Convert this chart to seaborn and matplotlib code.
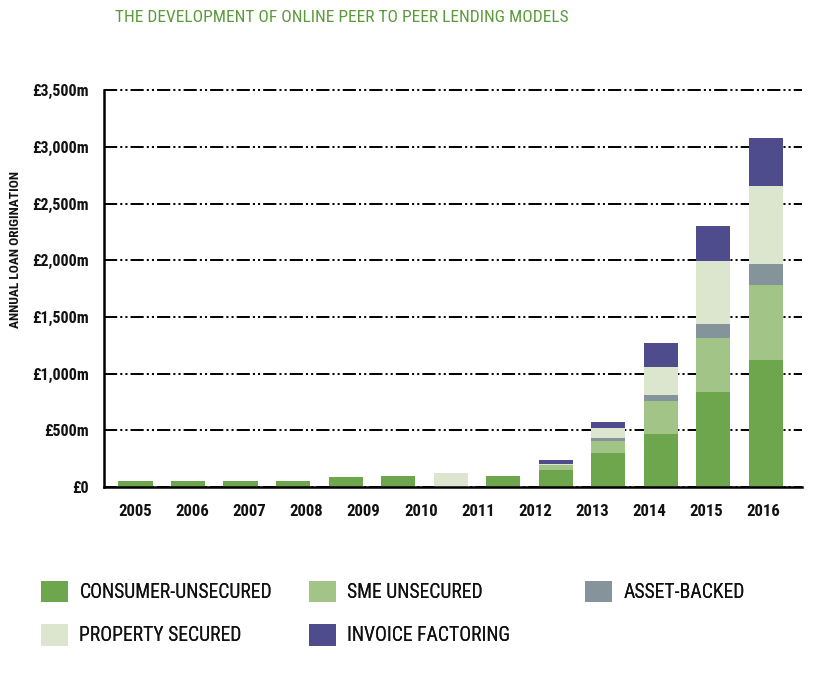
import numpy as np
import pandas as pd
import matplotlib
matplotlib.use("Agg")
import matplotlib.pyplot as plt
from matplotlib.patches import Patch
from matplotlib import font_manager
import seaborn as sns

# ---------------- data ----------------
bar_slots = ["2005", "2006", "2007", "2008", "2009", "2010", "2010b",
             "2011", "2012", "2013", "2014", "2015", "2016"]
year_labels = ["2005", "2006", "2007", "2008", "2009", "2010",
               "2011", "2012", "2013", "2014", "2015", "2016"]
consumer_unsecured = [50, 50, 50, 50, 86, 97, 0, 97, 148, 300, 470, 840, 1120]
sme_unsecured      = [0, 0, 0, 0, 0, 0, 0, 0, 45, 106, 289, 476, 659]
asset_backed       = [0, 0, 0, 0, 0, 0, 0, 0, 0, 26, 50, 123, 185]
property_secured   = [0, 0, 0, 0, 0, 0, 126, 0, 10, 85, 247, 556, 693]
invoice_factoring  = [0, 0, 0, 0, 0, 0, 0, 0, 35, 56, 211, 306, 418]
series_names = ["CONSUMER-UNSECURED", "SME UNSECURED", "ASSET-BACKED",
                "PROPERTY SECURED", "INVOICE FACTORING"]
y_ticks = [0, 500, 1000, 1500, 2000, 2500, 3000, 3500]
y_tick_labels = ["£0", "£500m", "£1,000m", "£1,500m", "£2,000m",
                 "£2,500m", "£3,000m", "£3,500m"]

colors = {
    "CONSUMER-UNSECURED": "#6ea64e",
    "SME UNSECURED": "#a2c487",
    "ASSET-BACKED": "#85939a",
    "PROPERTY SECURED": "#dce6cf",
    "INVOICE FACTORING": "#4e4c8c",
}

# ---------------- style ----------------
sns.set_theme(style="white")

# choose a condensed family if one is installed, otherwise Roboto
names = set(font_manager.fontManager.get_font_names())
family = None
stretch = "normal"
scale = 1.0
for cand in ["Liberation Sans Narrow", "Roboto Condensed", "Open Sans Condensed",
             "Noto Sans Condensed", "DejaVu Sans Condensed"]:
    if cand in names:
        family, scale = cand, 1.18
        break
if family is None:
    try:
        fp = font_manager.findfont(font_manager.FontProperties(
            family="DejaVu Sans", stretch="condensed"), fallback_to_default=False)
        if "Condensed" in fp:
            family, stretch, scale = "DejaVu Sans", "condensed", 0.92
    except Exception:
        pass
if family is None:
    family = "Roboto" if "Roboto" in names else "DejaVu Sans"
    scale = 1.0 if family == "Roboto" else 0.85

plt.rcParams["font.family"] = [family, "DejaVu Sans"]
plt.rcParams["font.stretch"] = stretch
plt.rcParams["lines.scale_dashes"] = False

def fs(x):
    return x * scale

fig = plt.figure(figsize=(8.23, 6.74), dpi=100)
ax = fig.add_axes([104 / 823, (674 - 487) / 674, 698 / 823, (487 - 84.5) / 674])

df = pd.DataFrame({
    "slot": bar_slots,
    "CONSUMER-UNSECURED": consumer_unsecured,
    "SME UNSECURED": sme_unsecured,
    "ASSET-BACKED": asset_backed,
    "PROPERTY SECURED": property_secured,
    "INVOICE FACTORING": invoice_factoring,
})
cum = df[series_names].cumsum(axis=1)

# draw stacked bars: tallest cumulative first, then lower layers on top
for name in reversed(series_names):
    sns.barplot(x=df["slot"], y=cum[name], order=bar_slots, color=colors[name],
                saturation=1, width=0.65, linewidth=0, errorbar=None, ax=ax,
                zorder=3)

ax.set_ylim(0, 3550)
ax.set_xlim(-0.6, 12.69)

# grid
ax.set_yticks(y_ticks)
ax.set_yticklabels(y_tick_labels, fontsize=fs(9.8), fontweight="bold", color="#111111")
ax.yaxis.grid(True, color="black", linewidth=1.4,
              linestyle=(0, (9.5, 2.2, 1.5, 2.2, 1.5, 2.2)), zorder=1)
ax.xaxis.grid(False)
ax.set_axisbelow(True)

# x ticks: 12 labels evenly spread over 13 bar slots
label_pitch = 12 / 11.05
ax.set_xticks(np.arange(len(year_labels)) * label_pitch)
ax.set_xticklabels(year_labels, fontsize=fs(10.2), fontweight="bold", color="#111111")
ax.tick_params(axis="x", length=0, pad=12)
ax.tick_params(axis="y", length=0, pad=11)

for s in ["top", "right"]:
    ax.spines[s].set_visible(False)
ax.spines["left"].set_bounds(0, 3500)
for s in ["left", "bottom"]:
    ax.spines[s].set_color("black")
    ax.spines[s].set_linewidth(1.8)
    ax.spines[s].set_zorder(4)

ax.set_xlabel("")
ax.set_ylabel("")

fig.text(16 / 823, (674 - 250) / 674, "ANNUAL LOAN ORIGINATION", rotation=90,
         ha="center", va="center", fontsize=fs(8.2), fontweight="bold", color="#111111")

fig.text(342 / 823, (674 - 18) / 674,
         "THE DEVELOPMENT OF ONLINE PEER TO PEER LENDING MODELS",
         ha="center", va="center", fontsize=fs(10.6), color="#5a9a3a")

# legends placed in three fixed columns
def make_legend(labels, x_px):
    handles = [Patch(facecolor=colors[n], edgecolor="none") for n in labels]
    leg = fig.legend(handles, labels, loc="upper left",
                     bbox_to_anchor=(x_px / 823, (674 - 581) / 674),
                     frameon=False, fontsize=fs(12), handlelength=1.35,
                     handleheight=1.3, handletextpad=0.6, labelspacing=1.1,
                     borderpad=0, borderaxespad=0)
    for t in leg.get_texts():
        t.set_color("#111111")
    fig.add_artist(leg)
    return leg

make_legend(["CONSUMER-UNSECURED", "PROPERTY SECURED"], 41)
make_legend(["SME UNSECURED", "INVOICE FACTORING"], 309)
make_legend(["ASSET-BACKED"], 585)

fig.savefig("out.png", dpi=100)
